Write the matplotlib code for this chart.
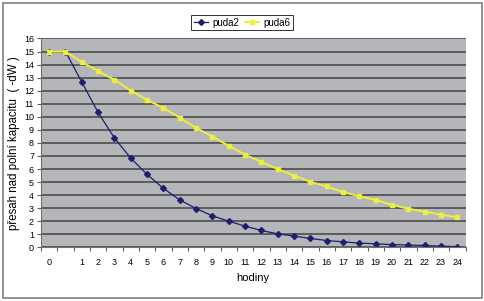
import matplotlib
matplotlib.use("Agg")
import matplotlib.pyplot as plt
from matplotlib.patches import Rectangle
from matplotlib.ticker import FixedLocator, MultipleLocator

plt.rcParams['font.family'] = ['Liberation Sans', 'DejaVu Sans']

# hodiny (druha kategorie je prazdna)
hodiny = ['0', ''] + [str(i) for i in range(1, 25)]

puda2 = [15, 15, 12.66, 10.33, 8.37, 6.83, 5.58, 4.51, 3.63, 2.97, 2.41, 2.0, 1.62,
         1.29, 1.03, 0.86, 0.68, 0.52, 0.42, 0.32, 0.27, 0.21, 0.17, 0.14, 0.09, 0.05]
puda6 = [15, 15, 14.19, 13.5, 12.84, 12.01, 11.3, 10.67, 9.93, 9.16, 8.48, 7.78, 7.09,
         6.55, 5.99, 5.5, 5.02, 4.66, 4.23, 3.92, 3.62, 3.26, 2.95, 2.74, 2.49, 2.31]

fig = plt.figure(figsize=(4.85, 3.01), dpi=100)
ax = fig.add_axes([0.0845, 0.1784, 0.8753, 0.6937])

x = list(range(len(hodiny)))
ax.plot(x, puda2, color='#1e1e6e', lw=0.9, marker='D', ms=3, label='puda2')
ax.plot(x, puda6, color='#eeee3c', lw=1.4, marker='s', ms=3, label='puda6')

ax.set_facecolor('#b5b6ba')
ax.set_xlim(-0.5, len(hodiny) - 0.5)
ax.set_ylim(0, 16)
ax.yaxis.set_major_locator(MultipleLocator(1))
ax.grid(axis='y', color='#4c4c4c', lw=1.2)
ax.set_axisbelow(True)

ax.set_xticks(x)
ax.set_xticklabels(hodiny)
ax.xaxis.set_minor_locator(FixedLocator([i - 0.5 for i in range(len(hodiny) + 1)]))
ax.tick_params(axis='x', which='major', length=0, pad=8, labelsize=6.5)
ax.tick_params(axis='x', which='minor', length=3, width=0.8, color='#606060')
ax.tick_params(axis='y', length=3, width=0.8, color='#606060', pad=2, labelsize=6.5)

for s in ['top', 'right']:
    ax.spines[s].set_visible(False)
for s in ['left', 'bottom']:
    ax.spines[s].set_color('#707070')
    ax.spines[s].set_linewidth(0.8)

ax.set_xlabel('hodiny', fontsize=8)
ax.set_ylabel('přesah nad polní kapacitu  ( -dW )', fontsize=8.3)
ax.xaxis.set_label_coords(0.5, -0.123)
ax.yaxis.set_label_coords(-0.05, 0.5)

leg = fig.legend(loc='center', bbox_to_anchor=(0.499, 0.925), ncol=2, fontsize=7,
                 frameon=True, fancybox=False, handlelength=1.5, columnspacing=0.6,
                 handletextpad=0.4, borderpad=0.3)
leg.get_frame().set_edgecolor('black')
leg.get_frame().set_linewidth(0.7)

fig.patches.append(Rectangle((3 / 485, 3 / 301), 479 / 485, 295 / 301,
                             transform=fig.transFigure, fill=False,
                             edgecolor='#8a8a8a', lw=1.3))

fig.savefig('out.png', dpi=100)
